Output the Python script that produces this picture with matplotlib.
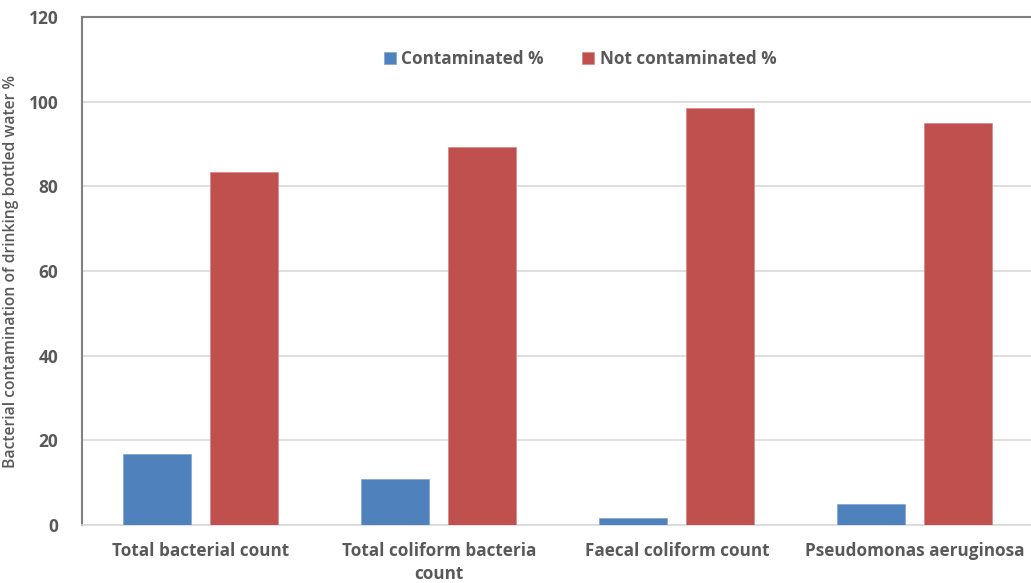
import matplotlib
matplotlib.use("Agg")
import matplotlib.pyplot as plt
import numpy as np

categories = ["Total bacterial count", "Total coliform bacteria\ncount",
              "Faecal coliform count", "Pseudomonas aeruginosa"]
contaminated = [16.7, 10.8, 1.6, 5.0]
not_contaminated = [83.3, 89.2, 98.4, 95.0]
series_names = ["Contaminated %", "Not contaminated %"]
yticks = [0, 20, 40, 60, 80, 100, 120]

plt.rcParams['font.family'] = ['Open Sans', 'DejaVu Sans']
txt = '#595959'

fig = plt.figure(figsize=(10.31, 5.83), dpi=100)
ax = fig.add_axes([82/1031, 1-525/583, (1034-82)/1031, (525-17)/583])

x = np.arange(len(categories))
w = 0.286
ax.bar(x - 0.184, contaminated, w, color='#4F81BD', label=series_names[0], zorder=3,
       edgecolor='#7FA3D0', linewidth=0.5)
ax.bar(x + 0.181, not_contaminated, w, color='#C0504D', label=series_names[1], zorder=3,
       edgecolor='#D58583', linewidth=0.5)

ax.set_xlim(-0.5, 3.5)
ax.set_ylim(0, 120)
ax.set_yticks(yticks)
ax.set_yticklabels([str(t) for t in yticks], fontsize=12.5, fontweight='bold', color=txt)
ax.set_xticks(x)
ax.set_xticklabels(categories, fontsize=12.3, fontweight='bold', color=txt, linespacing=1.4)
ax.tick_params(axis='both', length=0)
ax.tick_params(axis='y', pad=17)
ax.tick_params(axis='x', pad=12)

ax.grid(axis='y', color='#D9D9D9', linewidth=1.2, zorder=0)
ax.set_axisbelow(True)
for s in ['left', 'top']:
    ax.spines[s].set_color('#808080')
    ax.spines[s].set_linewidth(1.5)
ax.spines['right'].set_visible(False)
ax.spines['bottom'].set_color('#D9D9D9')
ax.spines['bottom'].set_linewidth(1.2)

ax.set_ylabel("Bacterial contamination of drinking bottled water %", fontsize=11.3,
              color=txt, fontweight='semibold')
ax.yaxis.set_label_coords(-0.066, 0.5)

leg = ax.legend(loc='upper center', bbox_to_anchor=(0.523, 0.965), ncol=2, frameon=False,
                prop={'size': 12.3, 'weight': 'bold'}, handlelength=0.7, handleheight=0.7,
                handletextpad=0.3, columnspacing=2.3)
for t in leg.get_texts():
    t.set_color(txt)

fig.savefig("out.png", dpi=100)
